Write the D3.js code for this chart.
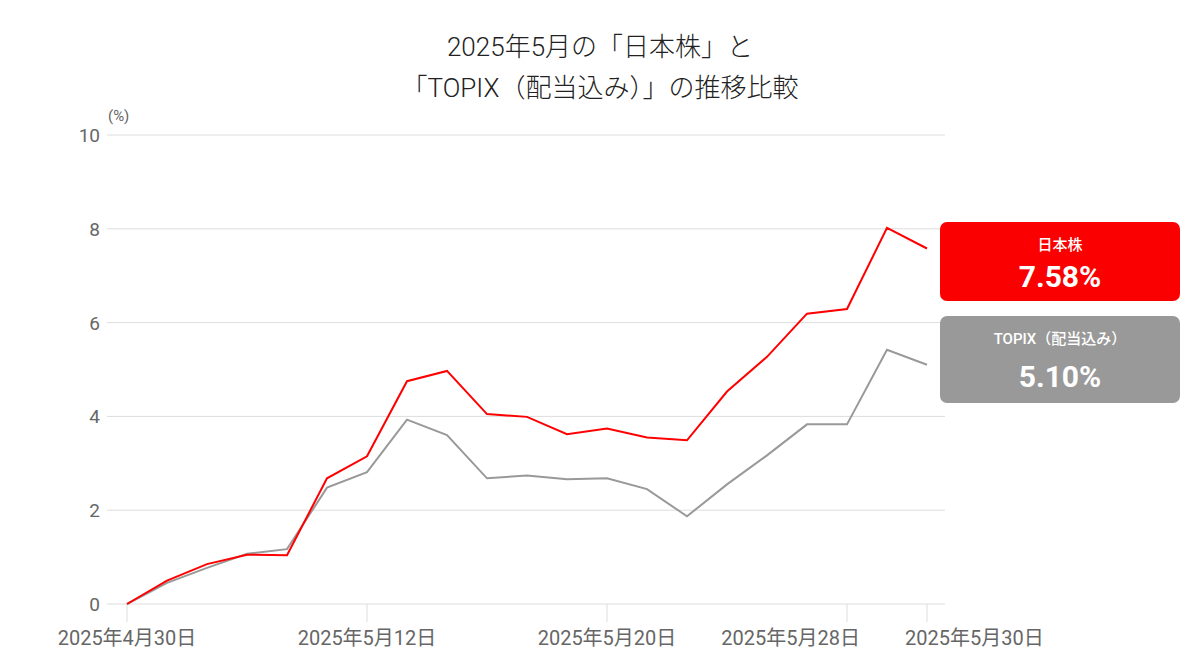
<!DOCTYPE html>
<html><head><meta charset="utf-8">
<script src="https://cdn.jsdelivr.net/npm/d3@7"></script>
<style>body{margin:0;background:#fff}text{font-family:Roboto,"Noto Sans CJK JP",sans-serif}</style>
</head><body><div id="chart"></div>
<script>
const dates = ["4/30","5/1","5/2","5/7","5/8","5/9","5/12","5/13","5/14","5/15","5/16","5/19","5/20","5/21","5/22","5/23","5/26","5/27","5/28","5/29","5/30"];
const nikkei = [0,0.5,0.85,1.05,1.04,2.68,3.15,4.75,4.97,4.05,3.99,3.62,3.74,3.55,3.49,4.53,5.27,6.19,6.29,8.02,7.58];
const topix = [0,0.45,0.77,1.07,1.17,2.48,2.81,3.93,3.6,2.68,2.74,2.66,2.68,2.45,1.87,2.55,3.17,3.83,3.83,5.42,5.10];
const tickDates = ["4/30","5/12","5/20","5/28","5/30"];
const yTicks = [0,2,4,6,8,10];

const w = 1200, h = 660;
const svg = d3.select("#chart").append("svg").attr("width", w).attr("height", h);
const x = d3.scalePoint().domain(dates).range([127, 927]);
const y = d3.scaleLinear().domain([0, 10]).range([604, 135]);

svg.append("text").attr("x", 600).attr("y", 56).attr("text-anchor", "middle")
    .attr("font-size", 26).attr("font-weight", 300).attr("fill", "#222").text("2025年5月の「日本株」と");
svg.append("text").attr("x", 600).attr("y", 97).attr("text-anchor", "middle")
    .attr("font-size", 26).attr("font-weight", 300).attr("fill", "#222").text("「TOPIX（配当込み）」の推移比較");

// grid
svg.selectAll("line.grid").data(yTicks).enter().append("line")
    .attr("x1", 107).attr("x2", 945)
    .attr("y1", d => y(d)).attr("y2", d => y(d))
    .attr("stroke", "#ddd").attr("stroke-width", 1);
svg.selectAll("text.yt").data(yTicks).enter().append("text")
    .attr("x", 100).attr("y", d => y(d) + 7).attr("text-anchor", "end")
    .attr("font-size", 19).attr("fill", "#666").text(d => d);
svg.append("text").attr("x", 108).attr("y", 121).attr("font-size", 15).attr("fill", "#666").text("(%)");

// x ticks
svg.selectAll("line.xt").data(tickDates).enter().append("line")
    .attr("x1", d => x(d)).attr("x2", d => x(d)).attr("y1", 604).attr("y2", 622)
    .attr("stroke", "#ddd");
const anchorFor = d => d === "5/28" ? "end" : d === "5/30" ? "start" : "middle";
const dxFor = d => d === "5/28" ? 13 : d === "5/30" ? -22 : 0;
svg.selectAll("text.xl").data(tickDates).enter().append("text")
    .attr("x", d => x(d) + dxFor(d)).attr("y", 645).attr("text-anchor", anchorFor)
    .attr("font-size", 20).attr("fill", "#666")
    .text(d => { const p = d.split("/"); return "2025年" + p[0] + "月" + p[1] + "日"; });

const line = d3.line().x((d, i) => x(dates[i])).y(d => y(d));
svg.append("path").datum(topix).attr("d", line).attr("fill", "none").attr("stroke", "#999").attr("stroke-width", 2);
svg.append("path").datum(nikkei).attr("d", line).attr("fill", "none").attr("stroke", "#f00").attr("stroke-width", 2);

// label boxes
const boxes = [
  {name: "日本株", val: nikkei[nikkei.length - 1], color: "#fa0000", y0: 222, h: 79},
  {name: "TOPIX（配当込み）", val: topix[topix.length - 1], color: "#999", y0: 316, h: 87}
];
boxes.forEach(b => {
  svg.append("rect").attr("x", 940).attr("y", b.y0).attr("width", 240).attr("height", b.h)
      .attr("rx", 7).attr("fill", b.color);
  svg.append("text").attr("x", 1060).attr("y", b.y0 + 28).attr("text-anchor", "middle")
      .attr("font-size", 15).attr("fill", "#fff").attr("font-weight", 500).text(b.name);
  svg.append("text").attr("x", 1060).attr("y", b.y0 + (b.h > 80 ? 71 : 65)).attr("text-anchor", "middle")
      .attr("font-size", 30).attr("fill", "#fff").attr("font-weight", "bold").text(b.val.toFixed(2) + "%");
});
</script></body></html>
